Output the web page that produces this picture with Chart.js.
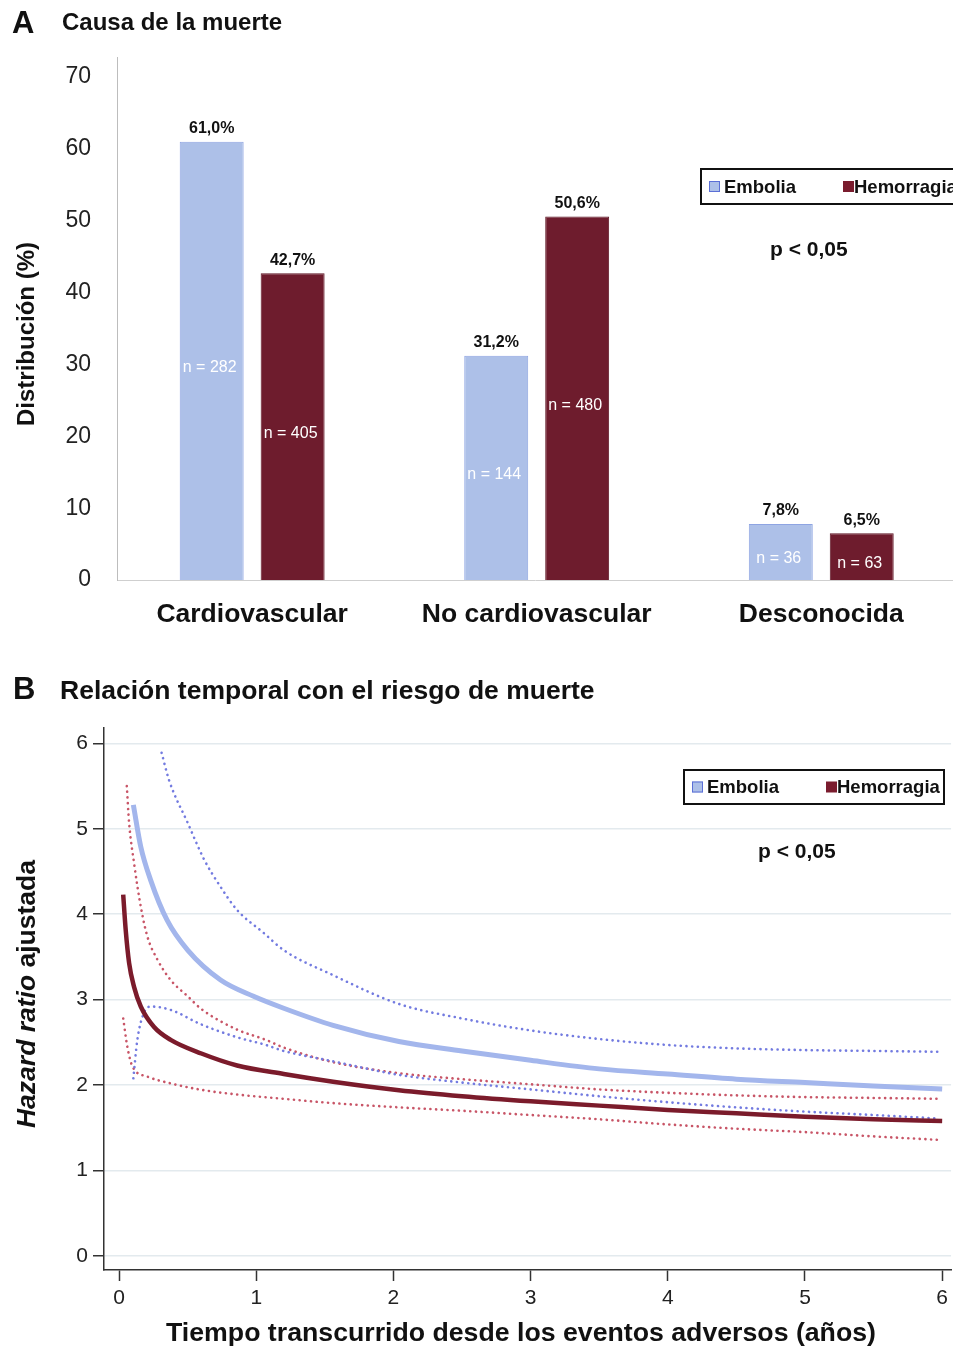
<!DOCTYPE html>
<html>
<head>
<meta charset="utf-8">
<script src="https://cdn.jsdelivr.net/npm/chart.js@4.4.1/dist/chart.umd.min.js"></script>
<style>
  html, body { margin: 0; padding: 0; background: #fff; overflow: hidden; }
  body { width: 953px; height: 1347px; position: relative; font-family: 'Liberation Sans', Arial, sans-serif; }
  .heading { position: absolute; font-weight: bold; color: #111; line-height: 1; white-space: nowrap; z-index: 2; }
  canvas { position: absolute; left: 0; }
</style>
</head>
<body>
<div class="heading" style="left:12px; top:7px; font-size:31px;">A</div>
<div class="heading" style="left:62px; top:10px; font-size:24px;">Causa de la muerte</div>
<div class="heading" style="left:13px; top:673px; font-size:31px;">B</div>
<div class="heading" style="left:60px; top:677px; font-size:26.5px;">Relación temporal con el riesgo de muerte</div>

<canvas id="causeChart" width="953" height="640" style="top:0px;"></canvas>
<canvas id="riskChart" width="953" height="647" style="top:700px;"></canvas>

<script>
// Panel A: cause of death
const categories = ['Cardiovascular', 'No cardiovascular', 'Desconocida'];
const emboliaPct = [61.0, 31.2, 7.8];
const hemorragiaPct = [42.7, 50.6, 6.5];
const emboliaN = [282, 144, 36];
const hemorragiaN = [405, 480, 63];
const pctTicks = [0, 10, 20, 30, 40, 50, 60, 70];

// Panel B: adjusted hazard ratio over time (years)
const emboliaTime = [0.104, 0.158, 0.23, 0.35, 0.5, 0.74, 0.98, 1.2, 1.56, 2.04, 2.5, 3, 3.5, 4, 4.5, 5, 5.5, 6];
const emboliaHR = [5.28, 4.79, 4.40, 3.93, 3.58, 3.23, 3.04, 2.90, 2.70, 2.51, 2.40, 2.29, 2.19, 2.13, 2.07, 2.03, 1.99, 1.955];
const emboliaHighTime = [0.31, 0.364, 0.5, 0.62, 0.74, 0.86, 1.055, 1.2, 1.556, 2.04, 2.5, 3, 3.5, 4, 4.5, 5, 5.5, 5.97];
const emboliaHigh = [5.89, 5.57, 5.07, 4.64, 4.32, 4.05, 3.78, 3.58, 3.29, 2.95, 2.78, 2.64, 2.54, 2.47, 2.43, 2.41, 2.40, 2.39];
const emboliaLowTime = [0.104, 0.133, 0.18, 0.23, 0.376, 0.6, 0.86, 1.07, 1.2, 1.556, 2.04, 2.5, 3, 3.5, 4, 4.5, 5, 5.5, 5.97];
const emboliaLow = [2.08, 2.53, 2.84, 2.92, 2.88, 2.71, 2.56, 2.47, 2.40, 2.28, 2.12, 2.03, 1.95, 1.87, 1.80, 1.74, 1.69, 1.65, 1.61];

const hemorragiaTime = [0.03, 0.048, 0.073, 0.109, 0.158, 0.255, 0.376, 0.6, 0.86, 1.2, 1.56, 2.04, 2.5, 3, 3.5, 4, 4.5, 5, 5.5, 6];
const hemorragiaHR = [4.23, 3.82, 3.43, 3.15, 2.92, 2.68, 2.53, 2.37, 2.23, 2.13, 2.04, 1.94, 1.87, 1.81, 1.76, 1.71, 1.67, 1.63, 1.60, 1.58];
const hemorragiaHighTime = [0.056, 0.073, 0.109, 0.158, 0.206, 0.279, 0.376, 0.5, 0.6, 0.86, 1.07, 1.2, 1.556, 2.04, 2.5, 3, 3.5, 4, 4.5, 5, 5.5, 5.97];
const hemorragiaHigh = [5.50, 5.07, 4.60, 4.09, 3.74, 3.47, 3.23, 3.04, 2.89, 2.65, 2.53, 2.44, 2.27, 2.14, 2.07, 2.01, 1.95, 1.91, 1.88, 1.86, 1.85, 1.84];
const hemorragiaLowTime = [0.03, 0.06, 0.097, 0.206, 0.376, 0.618, 0.86, 1.2, 1.556, 2.04, 2.5, 3, 3.5, 4, 4.5, 5, 5.5, 5.97];
const hemorragiaLow = [2.78, 2.45, 2.22, 2.10, 2.02, 1.94, 1.89, 1.84, 1.79, 1.74, 1.70, 1.65, 1.60, 1.54, 1.49, 1.45, 1.40, 1.36];
const hrTicks = [0, 1, 2, 3, 4, 5, 6];
const timeTicks = [0, 1, 2, 3, 4, 5, 6];

const FONT = "'Liberation Sans', Arial, sans-serif";
const BLUE = '#adc0e8';
const BLUE_EDGE = '#8ea4e2';
const RED = '#6e1c2d';
const RED_EDGE = '#5e1524';

function toPoints(xs, ys) {
  return xs.map((x, i) => ({ x, y: ys[i] }));
}

function fmtPct(v) {
  return v.toFixed(1).replace('.', ',') + '%';
}

// legend box + p value, shared by both panels
function drawLegend(ctx, box, blueX, redX, pPos) {
  ctx.save();
  ctx.lineWidth = 2;
  ctx.strokeStyle = '#111';
  ctx.strokeRect(box.x, box.y, box.w, box.h);
  const my = box.y + box.h / 2;
  ctx.fillStyle = BLUE;
  ctx.fillRect(blueX, my - 5.5, 11, 11);
  ctx.strokeStyle = '#5b6fd6';
  ctx.lineWidth = 1;
  ctx.strokeRect(blueX + 0.5, my - 5, 10, 10);
  ctx.fillStyle = '#7a1c2e';
  ctx.fillRect(redX, my - 5.5, 11, 11);
  ctx.fillStyle = '#111';
  ctx.font = 'bold 18.5px ' + FONT;
  ctx.textBaseline = 'middle';
  ctx.textAlign = 'left';
  ctx.fillText('Embolia', blueX + 15, my + 1);
  ctx.fillText('Hemorragia', redX + 11, my + 1);
  ctx.font = 'bold 21px ' + FONT;
  ctx.fillText('p < 0,05', pPos.x, pPos.y);
  ctx.restore();
}

const causeAnnotations = {
  id: 'causeAnnotations',
  afterDatasetsDraw(chart) {
    const ctx = chart.ctx;
    const counts = [emboliaN, hemorragiaN];
    ctx.save();
    ctx.textAlign = 'center';
    ctx.textBaseline = 'middle';
    chart.data.datasets.forEach((ds, d) => {
      chart.getDatasetMeta(d).data.forEach((bar, i) => {
        ctx.fillStyle = '#111';
        ctx.font = 'bold 16px ' + FONT;
        ctx.fillText(fmtPct(ds.data[i].y), bar.x, bar.y - 13);
        ctx.fillStyle = '#fff';
        ctx.font = '16px ' + FONT;
        ctx.fillText('n = ' + counts[d][i], bar.x - 2, (bar.y + bar.base) / 2 + 7);
      });
    });
    ctx.restore();
  },
  afterDraw(chart) {
    const ctx = chart.ctx;
    ctx.save();
    ctx.translate(27, 334);
    ctx.rotate(-Math.PI / 2);
    ctx.font = 'bold 24px ' + FONT;
    ctx.fillStyle = '#111';
    ctx.textAlign = 'center';
    ctx.textBaseline = 'middle';
    ctx.fillText('Distribución (%)', 0, 0);
    ctx.restore();
    drawLegend(ctx, { x: 701, y: 169, w: 262, h: 35 }, 709, 843, { x: 770, y: 250 });
  },
};

new Chart(document.getElementById('causeChart'), {
  type: 'bar',
  data: {
    datasets: [
      {
        label: 'Embolia',
        data: toPoints([1, 2, 3], emboliaPct),
        backgroundColor: BLUE,
        borderColor: BLUE_EDGE,
        borderWidth: 1,
      },
      {
        label: 'Hemorragia',
        data: toPoints([1, 2, 3], hemorragiaPct),
        backgroundColor: RED,
        borderColor: RED_EDGE,
        borderWidth: 1,
      },
    ],
  },
  options: {
    responsive: false,
    animation: false,
    categoryPercentage: 0.569,
    barPercentage: 0.79,
    layout: { padding: { top: 57, left: 0, right: 0, bottom: 0 } },
    plugins: { legend: { display: false }, tooltip: { enabled: false } },
    scales: {
      x: {
        type: 'linear',
        offset: false,
        min: 0.525,
        max: 3.463,
        afterBuildTicks: (scale) => { scale.ticks = [1, 2, 3].map((v) => ({ value: v })); },
        afterFit: (scale) => { scale.height = 60; },
        grid: { display: false, drawTicks: false, offset: false },
        border: { color: '#cfcfcf', width: 1 },
        ticks: {
          padding: 19,
          maxRotation: 0,
          autoSkip: false,
          color: '#111',
          font: { family: FONT, size: 26.5, weight: 'bold' },
          callback: (v) => categories[v - 1],
        },
      },
      y: {
        min: 0,
        max: 72.8,
        afterBuildTicks: (scale) => { scale.ticks = pctTicks.map((v) => ({ value: v })); },
        afterFit: (scale) => { scale.width = 117; },
        grid: { display: false, drawTicks: false },
        border: { color: '#bdbdbd', width: 1 },
        ticks: { padding: 26, color: '#222', font: { family: FONT, size: 23 } },
      },
    },
  },
  plugins: [causeAnnotations],
});

const riskAnnotations = {
  id: 'riskAnnotations',
  afterDraw(chart) {
    const ctx = chart.ctx;
    ctx.save();
    ctx.fillStyle = '#111';
    ctx.textBaseline = 'middle';
    // rotated y title with italic part
    ctx.translate(28, 294);
    ctx.rotate(-Math.PI / 2);
    const partA = 'Hazard ratio';
    const partB = ' ajustada';
    ctx.font = 'italic bold 26.5px ' + FONT;
    const wA = ctx.measureText(partA).width;
    ctx.font = 'bold 26.5px ' + FONT;
    const wB = ctx.measureText(partB).width;
    const start = -(wA + wB) / 2;
    ctx.textAlign = 'left';
    ctx.font = 'italic bold 26.5px ' + FONT;
    ctx.fillText(partA, start, 0);
    ctx.font = 'bold 26.5px ' + FONT;
    ctx.fillText(partB, start + wA, 0);
    ctx.restore();

    ctx.save();
    ctx.fillStyle = '#111';
    ctx.font = 'bold 26.7px ' + FONT;
    ctx.textAlign = 'center';
    ctx.textBaseline = 'middle';
    ctx.fillText('Tiempo transcurrido desde los eventos adversos (años)', 521, 634);
    ctx.restore();

    drawLegend(ctx, { x: 684, y: 70, w: 260, h: 34 }, 692, 826, { x: 758, y: 152 });
  },
};

function solidLine(label, xs, ys, color, width) {
  return {
    label,
    data: toPoints(xs, ys),
    borderColor: color,
    borderWidth: width,
    pointRadius: 0,
    cubicInterpolationMode: 'monotone',
    fill: false,
  };
}

function dottedLine(label, xs, ys, color) {
  return {
    label,
    data: toPoints(xs, ys),
    borderColor: color,
    borderWidth: 2.6,
    borderDash: [0.1, 5.6],
    borderCapStyle: 'round',
    pointRadius: 0,
    cubicInterpolationMode: 'monotone',
    fill: false,
  };
}

new Chart(document.getElementById('riskChart'), {
  type: 'line',
  data: {
    datasets: [
      solidLine('Hemorragia', hemorragiaTime, hemorragiaHR, '#7b1b2b', 4.5),
      solidLine('Embolia', emboliaTime, emboliaHR, '#a3b6ec', 5),
      dottedLine('Embolia IC sup', emboliaHighTime, emboliaHigh, '#737be0'),
      dottedLine('Embolia IC inf', emboliaLowTime, emboliaLow, '#737be0'),
      dottedLine('Hemorragia IC sup', hemorragiaHighTime, hemorragiaHigh, '#c85567'),
      dottedLine('Hemorragia IC inf', hemorragiaLowTime, hemorragiaLow, '#c85567'),
    ],
  },
  options: {
    responsive: false,
    animation: false,
    layout: { padding: { top: 28, left: 0, right: 0, bottom: 0 } },
    plugins: { legend: { display: false }, tooltip: { enabled: false } },
    scales: {
      x: {
        type: 'linear',
        min: -0.11,
        max: 6.065,
        afterBuildTicks: (scale) => { scale.ticks = timeTicks.map((v) => ({ value: v })); },
        afterFit: (scale) => { scale.height = 77; },
        grid: { drawOnChartArea: false, drawTicks: true, tickLength: 11, tickColor: '#333', tickWidth: 1.5 },
        border: { color: '#333', width: 1.5 },
        ticks: { padding: 5, maxRotation: 0, autoSkip: false, color: '#222', font: { family: FONT, size: 21 } },
      },
      y: {
        min: -0.164,
        max: 6.18,
        afterBuildTicks: (scale) => { scale.ticks = hrTicks.map((v) => ({ value: v })); },
        afterFit: (scale) => { scale.width = 104; },
        grid: { color: '#e3eaee', lineWidth: 1.5, drawTicks: true, tickLength: 11, tickColor: '#333', tickWidth: 1.5 },
        border: { color: '#333', width: 1.5 },
        ticks: { padding: 5, color: '#222', font: { family: FONT, size: 21 } },
      },
    },
  },
  plugins: [riskAnnotations],
});
</script>
</body>
</html>
